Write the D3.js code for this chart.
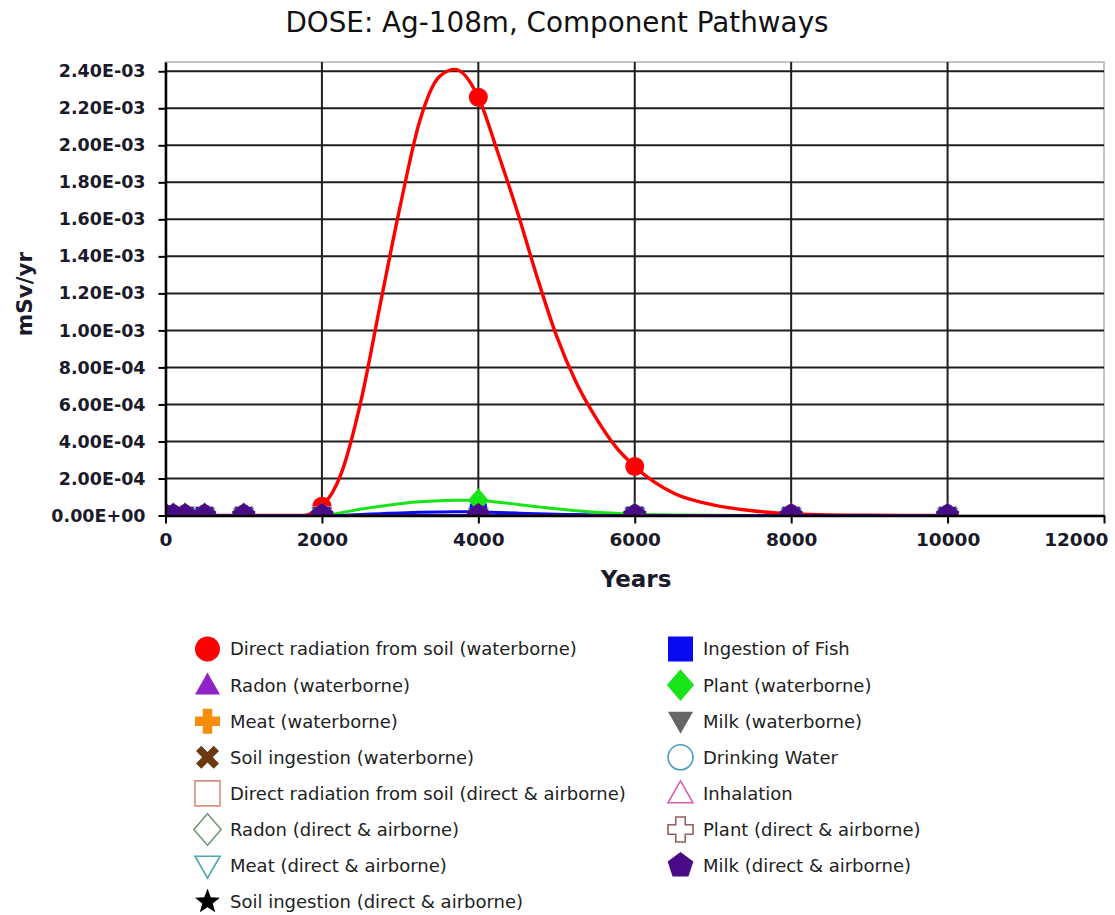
<!DOCTYPE html>
<html>
<head>
<meta charset="utf-8">
<script src="https://cdn.jsdelivr.net/npm/d3@7"></script>
<style>
  body { margin: 0; background: #fff; }
  svg { display: block; }
</style>
</head>
<body>
<svg id="chart" width="1115" height="915"></svg>
<script>
// ---- Chart text ----
const chartTitle = "DOSE: Ag-108m, Component Pathways";
const xAxisTitle = "Years";
const yAxisTitle = "mSv/yr";

// ---- Axis ticks ----
const xTickValues = [0, 2000, 4000, 6000, 8000, 10000, 12000];
const yTickValues = [0, 2e-4, 4e-4, 6e-4, 8e-4, 1e-3, 1.2e-3, 1.4e-3, 1.6e-3, 1.8e-3, 2e-3, 2.2e-3, 2.4e-3];
const yTickLabels = ["0.00E+00", "2.00E-04", "4.00E-04", "6.00E-04", "8.00E-04", "1.00E-03", "1.20E-03",
                     "1.40E-03", "1.60E-03", "1.80E-03", "2.00E-03", "2.20E-03", "2.40E-03"];

// ---- Time grid of the computed curves (years) ----
const years = [0, 100, 250, 500, 1000, 1500, 1750, 2000, 2250, 2500, 2750, 3000, 3250, 3500, 3700,
               4000, 4250, 4500, 4750, 5000, 5250, 5500, 5750, 6000, 6500, 7000, 7500, 8000, 9000, 10000];
// Times at which pathway doses are reported (marked points)
const reportYears = [0, 100, 250, 500, 1000, 2000, 4000, 6000, 8000, 10000];

// ---- Dose by pathway, mSv/yr, on `years` ----
const directSoilWaterborne = [0, 0, 0, 0, 0, 0, 0, 5.0e-5, 2.3e-4, 6.2e-4, 1.15e-3, 1.67e-3, 2.13e-3, 2.37e-3, 2.41e-3,
                              2.26e-3, 1.96e-3, 1.64e-3, 1.29e-3, 9.7e-4, 7.2e-4, 5.3e-4, 3.75e-4, 2.65e-4, 1.2e-4, 5.7e-5, 2.6e-5, 1.0e-5, 1.0e-6, 0];
const plantWaterborne = [0, 0, 0, 0, 0, 0, 0, 0, 1.5e-5, 3.5e-5, 5.0e-5, 6.4e-5, 7.4e-5, 8.0e-5, 8.2e-5,
                         8.2e-5, 7.2e-5, 6.0e-5, 4.7e-5, 3.6e-5, 2.6e-5, 1.8e-5, 1.2e-5, 7.0e-6, 3.0e-6, 1.0e-6, 0, 0, 0, 0];
const fishIngestion = [0, 0, 0, 0, 0, 0, 0, 0, 2.0e-6, 6.0e-6, 1.0e-5, 1.4e-5, 1.7e-5, 1.9e-5, 2.0e-5,
                       1.9e-5, 1.6e-5, 1.3e-5, 1.0e-5, 7.0e-6, 5.0e-6, 3.0e-6, 2.0e-6, 1.0e-6, 0, 0, 0, 0, 0, 0];

// ---- Pathways that stay at zero, on `reportYears` ----
const radonWaterborne        = [0, 0, 0, 0, 0, 0, 0, 0, 0, 0];
const meatWaterborne         = [0, 0, 0, 0, 0, 0, 0, 0, 0, 0];
const soilIngestWaterborne   = [0, 0, 0, 0, 0, 0, 0, 0, 0, 0];
const directSoilAirborne     = [0, 0, 0, 0, 0, 0, 0, 0, 0, 0];
const radonAirborne          = [0, 0, 0, 0, 0, 0, 0, 0, 0, 0];
const meatAirborne           = [0, 0, 0, 0, 0, 0, 0, 0, 0, 0];
const soilIngestAirborne     = [0, 0, 0, 0, 0, 0, 0, 0, 0, 0];
const milkWaterborne         = [0, 0, 0, 0, 0, 0, 0, 0, 0, 0];
const drinkingWater          = [0, 0, 0, 0, 0, 0, 0, 0, 0, 0];
const inhalation             = [0, 0, 0, 0, 0, 0, 0, 0, 0, 0];
const plantAirborne          = [0, 0, 0, 0, 0, 0, 0, 0, 0, 0];
const milkAirborne           = [0, 0, 0, 0, 0, 0, 0, 0, 0, 0];

// ---- Series definitions (legend order: left column, then right column) ----
const series = [
  { name: "Direct radiation from soil (waterborne)", x: years, y: directSoilWaterborne, shape: "circle",   color: "#ff0000", fill: true },
  { name: "Radon (waterborne)",                      x: reportYears, y: radonWaterborne,      shape: "triangle", color: "#9022c8", fill: true },
  { name: "Meat (waterborne)",                       x: reportYears, y: meatWaterborne,       shape: "plus",     color: "#f68e0c", fill: true },
  { name: "Soil ingestion (waterborne)",             x: reportYears, y: soilIngestWaterborne, shape: "cross",    color: "#6b3a10", fill: true },
  { name: "Direct radiation from soil (direct & airborne)", x: reportYears, y: directSoilAirborne, shape: "square", color: "#d8907e", fill: false },
  { name: "Radon (direct & airborne)",               x: reportYears, y: radonAirborne,        shape: "diamond",  color: "#6f9c7c", fill: false },
  { name: "Meat (direct & airborne)",                x: reportYears, y: meatAirborne,         shape: "triangleDown", color: "#4aa6b0", fill: false },
  { name: "Soil ingestion (direct & airborne)",      x: reportYears, y: soilIngestAirborne,   shape: "star",     color: "#000000", fill: true },
  { name: "Ingestion of Fish",                       x: years, y: fishIngestion,              shape: "square",   color: "#0a0af2", fill: true },
  { name: "Plant (waterborne)",                      x: years, y: plantWaterborne,            shape: "diamond",  color: "#18e418", fill: true },
  { name: "Milk (waterborne)",                       x: reportYears, y: milkWaterborne,       shape: "triangleDown", color: "#666666", fill: true },
  { name: "Drinking Water",                          x: reportYears, y: drinkingWater,        shape: "circle",   color: "#4a9cc4", fill: false },
  { name: "Inhalation",                              x: reportYears, y: inhalation,           shape: "triangle", color: "#d564a8", fill: false },
  { name: "Plant (direct & airborne)",               x: reportYears, y: plantAirborne,        shape: "plus",     color: "#9a5c5c", fill: false },
  { name: "Milk (direct & airborne)",                x: reportYears, y: milkAirborne,         shape: "pentagon", color: "#4a0c86", fill: true }
];

// ---- Layout ----
const svg = d3.select("#chart");
const plot = { left: 165.5, right: 1104, top: 62, bottom: 515.5 };
const x = d3.scaleLinear().domain([0, 12000]).range([plot.left, plot.right]);
const y = d3.scaleLinear().domain([0, 2.45e-3]).range([plot.bottom, plot.top]);

// ---- Marker shapes as d3 symbol types (size = half-width squared) ----
const shapes = {
  circle: { draw(c, s) { const r = Math.sqrt(s); c.moveTo(r, 0); c.arc(0, 0, r, 0, 2 * Math.PI); } },
  square: { draw(c, s) { const r = Math.sqrt(s); c.rect(-r, -r, 2 * r, 2 * r); } },
  diamond: { draw(c, s) { const r = Math.sqrt(s) * 1.15; c.moveTo(0, -r * 1.1); c.lineTo(r * 0.95, 0); c.lineTo(0, r * 1.1); c.lineTo(-r * 0.95, 0); c.closePath(); } },
  triangle: { draw(c, s) { const r = Math.sqrt(s); c.moveTo(0, -r); c.lineTo(r, r * 0.75); c.lineTo(-r, r * 0.75); c.closePath(); } },
  triangleDown: { draw(c, s) { const r = Math.sqrt(s); c.moveTo(0, r); c.lineTo(r, -r * 0.75); c.lineTo(-r, -r * 0.75); c.closePath(); } },
  plus: { draw(c, s) { const r = Math.sqrt(s), t = r * 0.38;
    c.moveTo(-t, -r); c.lineTo(t, -r); c.lineTo(t, -t); c.lineTo(r, -t); c.lineTo(r, t); c.lineTo(t, t);
    c.lineTo(t, r); c.lineTo(-t, r); c.lineTo(-t, t); c.lineTo(-r, t); c.lineTo(-r, -t); c.lineTo(-t, -t); c.closePath(); } },
  cross: { draw(c, s) { const r = Math.sqrt(s), t = r * 0.3, k = Math.SQRT1_2;
    const pts = [[-t, -r], [t, -r], [t, -t], [r, -t], [r, t], [t, t], [t, r], [-t, r], [-t, t], [-r, t], [-r, -t], [-t, -t]]
      .map(([a, b]) => [(a - b) * k, (a + b) * k]);
    c.moveTo(pts[0][0], pts[0][1]); pts.slice(1).forEach(p => c.lineTo(p[0], p[1])); c.closePath(); } },
  star: { draw(c, s) { const r = Math.sqrt(s) * 1.05, ri = r * 0.42;
    for (let i = 0; i < 10; i++) { const a = -Math.PI / 2 + i * Math.PI / 5, rr = i % 2 ? ri : r;
      if (i === 0) c.moveTo(rr * Math.cos(a), rr * Math.sin(a)); else c.lineTo(rr * Math.cos(a), rr * Math.sin(a)); }
    c.closePath(); } },
  pentagon: { draw(c, s) { const r = Math.sqrt(s) * 1.08;
    for (let i = 0; i < 5; i++) { const a = -Math.PI / 2 + i * 2 * Math.PI / 5;
      if (i === 0) c.moveTo(r * Math.cos(a), r * Math.sin(a)); else c.lineTo(r * Math.cos(a), r * Math.sin(a)); }
    c.closePath(); } }
};
const symbolPath = (shape, half) => d3.symbol().type(shapes[shape]).size(half * half)();
// Plot markers: the zero-dose pentagon sits on top and covers the stacked marks beneath it
const plotMarkerHalf = s => (s.shape === "pentagon" ? 11.5 : s.shape === "square" ? 8.5 : 9.5);

// ---- Title ----
svg.append("text")
  .attr("x", 557).attr("y", 32)
  .attr("text-anchor", "middle")
  .attr("font-family", "DejaVu Sans, Verdana, sans-serif")
  .attr("font-size", 27.8)
  .attr("fill", "#111")
  .text(chartTitle);

// ---- Plot frame ----
svg.append("rect")
  .attr("x", plot.left).attr("y", plot.top)
  .attr("width", plot.right - plot.left).attr("height", plot.bottom - plot.top)
  .attr("fill", "#fff").attr("stroke", "#c4c4c4").attr("stroke-width", 2);

// ---- Grid ----
const grid = svg.append("g").attr("stroke", "#1e1e1e").attr("stroke-width", 2);
grid.selectAll("line.h").data(yTickValues.filter(d => d > 0)).join("line")
  .attr("x1", plot.left).attr("x2", plot.right)
  .attr("y1", d => y(d)).attr("y2", d => y(d));
grid.selectAll("line.v").data(xTickValues.filter(d => d > 0 && d < 12000)).join("line")
  .attr("y1", plot.top).attr("y2", plot.bottom)
  .attr("x1", d => x(d)).attr("x2", d => x(d));

// ---- Clip region for series ----
svg.append("defs").append("clipPath").attr("id", "plotClip")
  .append("rect").attr("x", plot.left).attr("y", plot.top)
  .attr("width", plot.right - plot.left).attr("height", plot.bottom - plot.top);

const seriesLayer = svg.append("g").attr("clip-path", "url(#plotClip)");
const line = d3.line().curve(d3.curveMonotoneX);

// Lines
seriesLayer.selectAll("path.series-line").data(series).join("path")
  .attr("class", "series-line")
  .attr("fill", "none")
  .attr("stroke", d => d.color)
  .attr("stroke-width", d => (d.shape === "circle" && d.fill ? 3.4 : 3))
  .attr("d", d => line(d.x.map((t, i) => [x(t), y(d.y[i])])));

// Markers at report times
series.forEach(s => {
  const pts = s.x.map((t, i) => ({ t, v: s.y[i] })).filter(p => reportYears.includes(p.t));
  seriesLayer.append("g").selectAll("path").data(pts).join("path")
    .attr("transform", p => `translate(${x(p.t)},${y(p.v)})`)
    .attr("d", symbolPath(s.shape, plotMarkerHalf(s)))
    .attr("fill", s.fill ? s.color : "#fff")
    .attr("stroke", s.color)
    .attr("stroke-width", s.fill ? 0 : 1.5);
});

// ---- Axes ----
const axisFont = "DejaVu Sans, Verdana, sans-serif";
const yAxis = svg.append("g").attr("transform", `translate(${plot.left},0)`)
  .call(d3.axisLeft(y).tickValues(yTickValues).tickFormat((d, i) => yTickLabels[i]).tickSize(7).tickSizeOuter(0).tickPadding(13));
const xAxis = svg.append("g").attr("transform", `translate(0,${plot.bottom})`)
  .call(d3.axisBottom(x).tickValues(xTickValues).tickFormat(d3.format("d")).tickSize(8).tickSizeOuter(0).tickPadding(9));
[yAxis, xAxis].forEach(g => {
  g.select(".domain").attr("stroke", "#000").attr("stroke-width", 2.5);
  g.selectAll(".tick line").attr("stroke", "#000").attr("stroke-width", 2);
  g.selectAll("text").attr("font-family", axisFont).attr("font-weight", "bold").attr("fill", "#1a1a2a");
});
yAxis.selectAll("text").attr("font-size", 17.5);
xAxis.selectAll("text").attr("font-size", 18.5);
// keep the last year label inside the canvas
xAxis.selectAll(".tick").filter(d => d === 12000).select("text")
  .attr("text-anchor", "end").attr("x", 4);

// Axis titles
svg.append("text")
  .attr("x", 636).attr("y", 587)
  .attr("text-anchor", "middle")
  .attr("font-family", axisFont).attr("font-weight", "bold").attr("font-size", 23)
  .attr("fill", "#1a1a2a")
  .text(xAxisTitle);
svg.append("text")
  .attr("transform", "translate(32,294) rotate(-90)")
  .attr("text-anchor", "middle")
  .attr("font-family", axisFont).attr("font-weight", "bold").attr("font-size", 21.5)
  .attr("fill", "#1a1a2a")
  .text(yAxisTitle);

// ---- Legend ----
const legendCols = [{ symX: 207.5, textX: 230 }, { symX: 680.5, textX: 703 }];
const legendTop = 649, legendStep = 36.1;
const legendItems = series.map((s, i) => {
  const col = i < 8 ? 0 : 1, row = i < 8 ? i : i - 8;
  return { s, col, row };
});
const legend = svg.append("g");
legendItems.forEach(({ s, col, row }) => {
  const cy = legendTop + row * legendStep;
  legend.append("path")
    .attr("transform", `translate(${legendCols[col].symX},${cy})`)
    .attr("d", symbolPath(s.shape, 12.5))
    .attr("fill", s.fill ? s.color : "#fff")
    .attr("stroke", s.color)
    .attr("stroke-width", s.fill ? 0 : 1.6);
  legend.append("text")
    .attr("x", legendCols[col].textX).attr("y", cy)
    .attr("dy", "0.36em")
    .attr("font-family", axisFont).attr("font-size", 18)
    .attr("fill", "#222")
    .text(s.name);
});
</script>
</body>
</html>
